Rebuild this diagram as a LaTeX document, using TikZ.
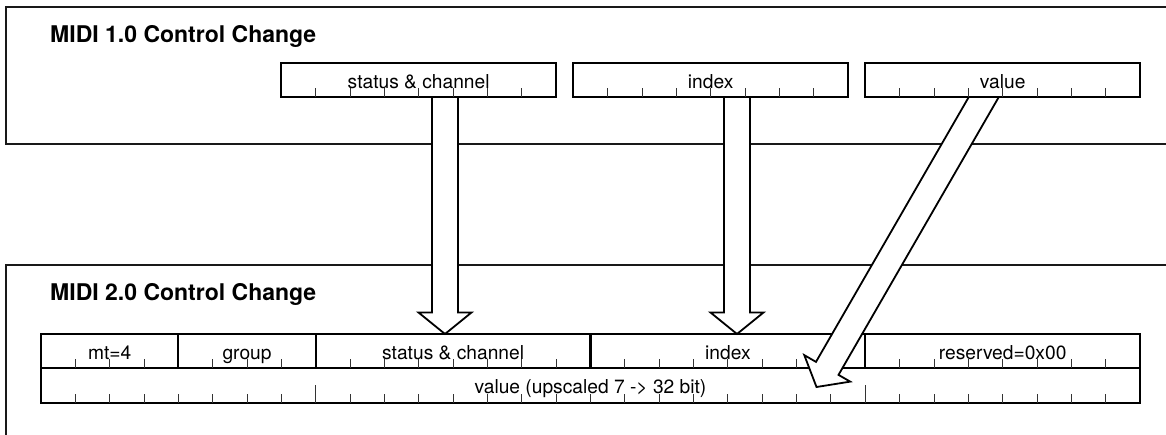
\documentclass[tikz,border=0pt]{standalone}
\usepackage{fontspec}
\setmainfont{TeX Gyre Heros}
\usetikzlibrary{calc}
\tikzset{
  panel/.style={draw=black!90, line width=1.5pt},
  field/.style={draw=black, line width=2.2pt, fill=white, rectangle, inner sep=0pt, outer sep=0pt, minimum height=34.3pt},
  lbl/.style={anchor=base, inner sep=0pt, font=\fontsize{19.2}{21}\selectfont},
  paneltitle/.style={anchor=base west, inner sep=0pt, font=\fontsize{23}{26}\bfseries\selectfont},
  tickline/.style={draw=black!80, line width=0.9pt},
  bigarrow/.style={draw=black, line width=1.8pt, fill=white, line join=miter},
}
% #1 prefix, #2 start coordinate, #3 tip coordinate
\newcommand\hollowarrow[3]{%
  \coordinate (#1hb) at ($(#3)!21.5pt!(#2)$);
  \draw[bigarrow] ($(#2)!13pt!90:(#3)$) -- ($(#1hb)!13pt!90:(#3)$) -- ($(#1hb)!26.5pt!90:(#3)$)
     -- (#3) -- ($(#1hb)!26.5pt!-90:(#3)$) -- ($(#1hb)!13pt!-90:(#3)$) -- ($(#2)!13pt!-90:(#3)$) -- cycle;
}
% #1 node, #2 number of subdivisions
\newcommand\fieldticks[2]{%
  \pgfmathtruncatemacro\lastt{#2-1}
  \foreach \i in {1,...,\lastt} \draw[tickline] ($(#1.south west)!\i/#2!(#1.south east)$) -- ++(0,9pt);
}
\begin{document}
\begin{tikzpicture}[x=1pt,y=-1pt]
\useasboundingbox (0,0) rectangle (1166,434);
\clip (0,0) rectangle (1166,434);

% panels
\draw[panel] (6,7) rectangle (1200,144);
\draw[panel] (6,265) rectangle (1200,480);
\node[paneltitle] (t1) at (50,42) {MIDI 1.0 Control Change};
\node[paneltitle] (t2) at (50,300.7) {MIDI 2.0 Control Change};

% MIDI 2.0 fields
\node[field, minimum width=137.375pt] (mt) at (109.69,351.15) {};
\node[field, minimum width=137.375pt] (grp) at (247.06,351.15) {};
\node[field, minimum width=274.75pt] (sc2) at (453.13,351.15) {};
\node[field, minimum width=274.75pt] (ix2) at (727.88,351.15) {};
\node[field, minimum width=274.75pt] (rs2) at (1002.63,351.15) {};
\node[field, minimum width=1099pt] (val2) at (590.5,385.45) {};
\fieldticks{mt}{4}
\fieldticks{grp}{4}
\fieldticks{sc2}{8}
\fieldticks{ix2}{8}
\fieldticks{rs2}{8}
\foreach \i in {1,...,31} {
  \pgfmathsetmacro\tl{(\i==8 || \i==24) ? 18 : 9}
  \draw[tickline] ($(val2.south west)!\i/32!(val2.south east)$) -- ++(0,\tl pt);
}
\node[lbl] (l-mt) at ([yshift=9pt]mt.south) {mt=4};
\node[lbl] (l-grp) at ([yshift=9pt]grp.south) {group};
\node[lbl] (l-sc2) at ([yshift=9pt]sc2.south) {status \& channel};
\node[lbl] (l-ix2) at ([yshift=9pt]ix2.south) {index};
\node[lbl] (l-rs2) at ([yshift=9pt]rs2.south) {reserved=0x00};
\node[lbl] (l-val2) at ([yshift=9pt]val2.south) {value (upscaled 7 -> 32 bit)};

% arrows
\coordinate (a1s) at (445,80);
\coordinate (a1t) at (a1s |- sc2.north);
\coordinate (a2s) at (737,80);
\coordinate (a2t) at (a2s |- ix2.north);
\coordinate (a3s) at (993.6,80);
\coordinate (a3t) at (816.5,387);
\hollowarrow{a1}{a1s}{a1t}
\hollowarrow{a2}{a2s}{a2t}
\hollowarrow{a3}{a3s}{a3t}

% MIDI 1.0 fields
\node[field, minimum width=274.75pt] (sc1) at (418.65,80.15) {};
\node[field, minimum width=274.75pt] (ix1) at (710.65,80.15) {};
\node[field, minimum width=274.75pt] (val1) at (1002.65,80.15) {};
\fieldticks{sc1}{8}
\fieldticks{ix1}{8}
\fieldticks{val1}{8}
\node[lbl] (l-sc1) at ([yshift=9pt]sc1.south) {status \& channel};
\node[lbl] (l-ix1) at ([yshift=9pt]ix1.south) {index};
\node[lbl] (l-val1) at ([yshift=9pt]val1.south) {value};
\end{tikzpicture}
\end{document}
